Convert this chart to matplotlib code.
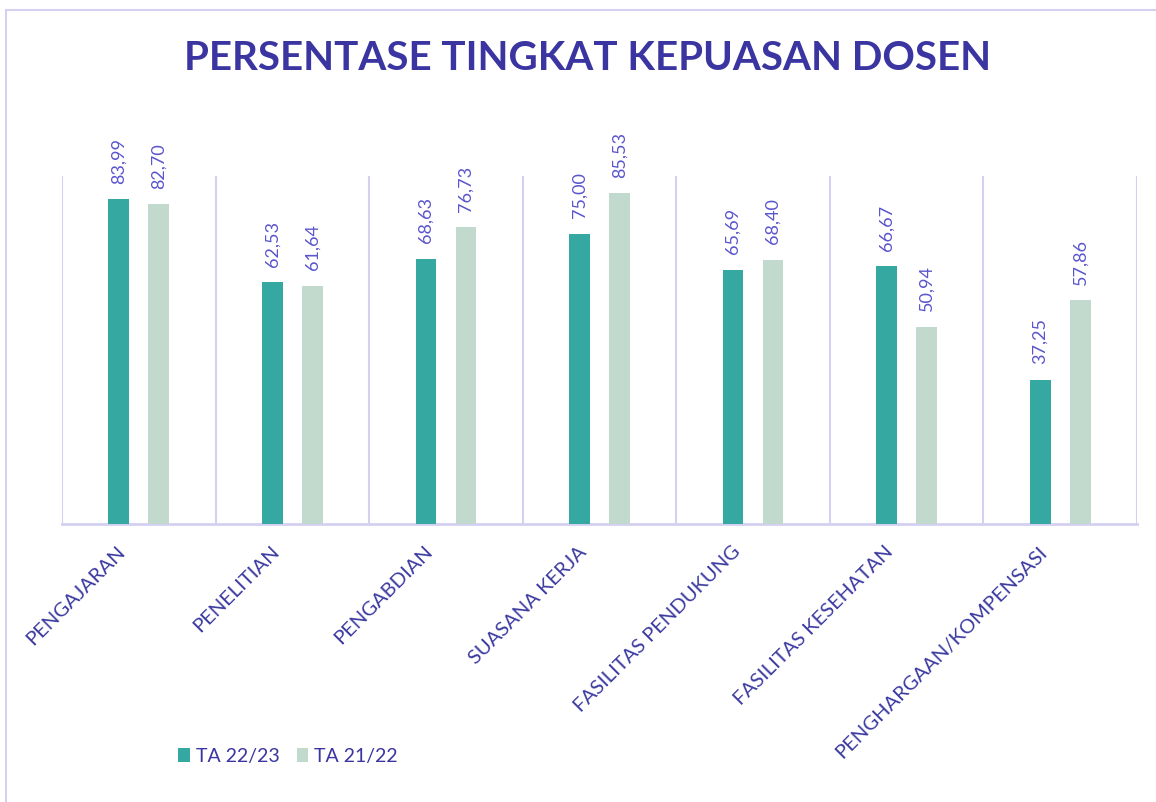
import matplotlib
matplotlib.use("Agg")
import matplotlib.pyplot as plt
from matplotlib.patches import Rectangle
from matplotlib.transforms import ScaledTranslation
import numpy as np

categories = ["PENGAJARAN", "PENELITIAN", "PENGABDIAN", "SUASANA KERJA",
              "FASILITAS PENDUKUNG", "FASILITAS KESEHATAN", "PENGHARGAAN/KOMPENSASI"]
series_names = ["TA 22/23", "TA 21/22"]
ta_22_23 = [83.99, 62.53, 68.63, 75.00, 65.69, 66.67, 37.25]
ta_21_22 = [82.70, 61.64, 76.73, 85.53, 68.40, 50.94, 57.86]

plt.rcParams['font.family'] = ['Lato', 'DejaVu Sans']

teal = "#35a9a1"
light = "#c2dacd"
grid_c = "#d4d0f2"
title_c = "#3a35a0"
val_c = "#5a55cc"
tick_c = "#3b3aa0"

W, H = 1156, 803
fig = plt.figure(figsize=(W / 100, H / 100), dpi=100)

# outer chart border
fig.patches.append(Rectangle((6 / W, -0.05), 1.2, 1 - 10.5 / H + 0.05,
                             transform=fig.transFigure, fill=False,
                             edgecolor=grid_c, linewidth=1.5))

ax = fig.add_axes([62 / W, (H - 525) / H, (1137 - 62) / W, (525 - 177) / H])
x = np.arange(len(categories))
bw = 0.135
off = 0.13
b1 = ax.bar(x - off, ta_22_23, width=bw, color=teal, label=series_names[0], zorder=3)
b2 = ax.bar(x + off, ta_21_22, width=bw, color=light, label=series_names[1], zorder=3)

ax.set_xlim(-0.5, len(categories) - 0.5)
ax.set_ylim(0, 90)
for b in np.arange(len(categories) + 1) - 0.5:
    ax.axvline(b, color=grid_c, linewidth=1.5, zorder=1)
for s in ["top", "right", "left"]:
    ax.spines[s].set_visible(False)
ax.spines["bottom"].set_color(grid_c)
ax.spines["bottom"].set_linewidth(2)
ax.set_yticks([])
ax.tick_params(axis="x", length=0, pad=13)
ax.set_xticks(x)
ax.set_xticklabels(categories, rotation=45, ha="right", rotation_mode="anchor",
                   fontsize=14.5, color=tick_c)
shift = ScaledTranslation(-22 / 100, 0, fig.dpi_scale_trans)
for lbl in ax.get_xticklabels():
    lbl.set_transform(lbl.get_transform() + shift)

def fmt(v):
    return f"{v:.2f}".replace(".", ",")

for bars, vals in ((b1, ta_22_23), (b2, ta_21_22)):
    for r, v in zip(bars, vals):
        ax.annotate(fmt(v), (r.get_x() + r.get_width() / 2, v),
                    xytext=(0, 12), textcoords="offset points",
                    rotation=90, ha="center", va="bottom",
                    fontsize=13, color=val_c)

fig.text(588 / W, 1 - 59 / H, "PERSENTASE TINGKAT KEPUASAN DOSEN",
         ha="center", va="center", fontsize=29, fontweight="bold", color=title_c)

leg = fig.legend(handles=[b1, b2], labels=series_names, loc="center",
                 bbox_to_anchor=(288 / W, 1 - 757 / H), ncol=2, frameon=False,
                 fontsize=14, handlelength=0.6, handleheight=0.75,
                 handletextpad=0.3, columnspacing=0.9)
for t in leg.get_texts():
    t.set_color(title_c)

fig.savefig("out.png", dpi=100)
